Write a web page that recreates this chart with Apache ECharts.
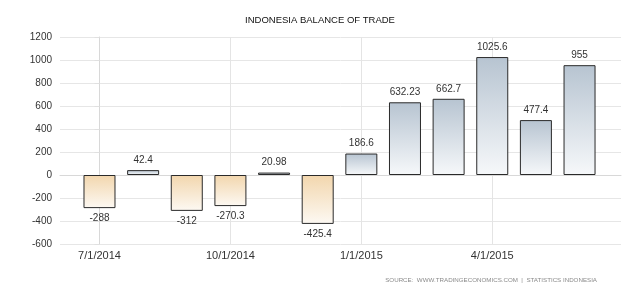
<!DOCTYPE html>
<html>
<head>
<meta charset="utf-8">
<script src="https://cdn.jsdelivr.net/npm/echarts@6/dist/echarts.min.js"></script>
<style>
html,body{margin:0;padding:0;background:#fff;}
#c{width:640px;height:293px;}
</style>
</head>
<body>
<div id="c"></div>
<script>
const categories = ["7/1/2014","8/1/2014","9/1/2014","10/1/2014","11/1/2014","12/1/2014","1/1/2015","2/1/2015","3/1/2015","4/1/2015","5/1/2015","6/1/2015"];
const values = [-288, 42.4, -312, -270.3, 20.98, -425.4, 186.6, 632.23, 662.7, 1025.6, 477.4, 955];
const xTickLabels = ["7/1/2014","10/1/2014","1/1/2015","4/1/2015"];
const yTicks = [-600, -400, -200, 0, 200, 400, 600, 800, 1000, 1200];

const tickIdx = xTickLabels.map(l => categories.indexOf(l));
const negGrad = new echarts.graphic.LinearGradient(0,0,0,1,[{offset:0,color:'#f2d6ad'},{offset:1,color:'#fdf9f3'}]);
const posGrad = new echarts.graphic.LinearGradient(0,0,0,1,[{offset:0,color:'#b7c4d1'},{offset:1,color:'#f6f8fa'}]);

const chart = echarts.init(document.getElementById('c'), null, {renderer:'canvas'});
const fontFam = '"Liberation Sans", Arial, sans-serif';
chart.setOption({
  animation:false,
  backgroundColor:'#fff',
  title:[{
    text:'INDONESIA BALANCE OF TRADE',
    left:'center', top:10,
    textStyle:{fontFamily:fontFam,fontSize:9.5,fontWeight:'normal',color:'#111'}
  },{
    text:'SOURCE:  WWW.TRADINGECONOMICS.COM  |  STATISTICS INDONESIA',
    right:38, top:272,
    textStyle:{fontFamily:fontFam,fontSize:6.2,fontWeight:'normal',color:'#8a8a8a'}
  }],
  grid:{left:60,right:19,top:37,bottom:49},
  xAxis:{
    type:'value', min:-0.905, max:11.95,
    axisLine:{show:true,lineStyle:{color:'#d8d8d8'}},
    axisTick:{show:false},
    splitLine:{show:false},
    axisLabel:{
      customValues:tickIdx,
      formatter:v=>categories[Math.round(v)],
      fontFamily:fontFam,fontSize:11,color:'#333',margin:6
    }
  },
  yAxis:{
    type:'value', min:yTicks[0], max:yTicks[yTicks.length-1], interval:200,
    axisLine:{show:true,lineStyle:{color:'#d8d8d8'}},
    axisTick:{show:true,length:5,lineStyle:{color:'#e0e0e0'}},
    splitLine:{show:true,lineStyle:{color:'#e6e6e6'}},
    axisLabel:{fontFamily:fontFam,fontSize:10,color:'#333',margin:8,formatter:v=>String(v)}
  },
  series:[{
    type:'line', data:[], z:0, silent:true,
    markLine:{
      z:0,
      symbol:['none','none'], silent:true, label:{show:false},
      lineStyle:{color:'#e4e4e4',type:'solid',width:1},
      data:tickIdx.map(i=>({xAxis:i}))
    }
  },{
    type:'bar', z:5, barWidth:32,
    data:values.map((v,i)=>({
      value:[i,v],
      itemStyle:{color:v<0?negGrad:posGrad,borderColor:'#2a2a2a',borderWidth:1},
      label:{position:v<0?'bottom':'top'}
    })),
    label:{show:true,distance:5,fontFamily:fontFam,fontSize:10,color:'#333',
      formatter:p=>String(p.value[1])}
  }]
});
</script>
</body>
</html>
